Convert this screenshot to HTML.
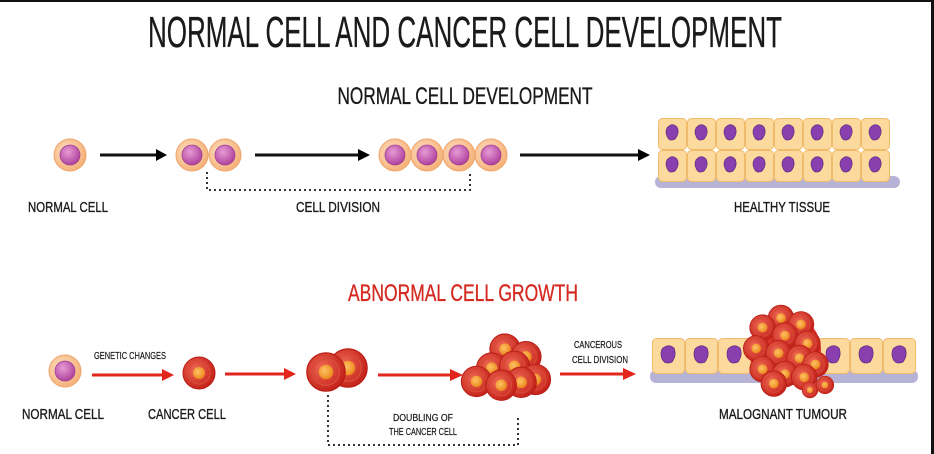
<!DOCTYPE html>
<html><head><meta charset="utf-8"><style>
html,body{margin:0;padding:0;background:#fff}
svg{display:block}
text{font-family:"Liberation Sans",sans-serif;fill:#1a1a1a;stroke:#1a1a1a;stroke-width:0.35}
</style></head><body>
<svg width="934" height="454" viewBox="0 0 934 454" xmlns="http://www.w3.org/2000/svg">
<defs>
<radialGradient id="gOut" cx="0.4" cy="0.4" r="0.6"><stop offset="0" stop-color="#fde2c4"/><stop offset="1" stop-color="#f5b27a"/></radialGradient>
<radialGradient id="gNuc" cx="0.4" cy="0.35" r="0.65"><stop offset="0" stop-color="#e79ad6"/><stop offset="1" stop-color="#b0449c"/></radialGradient>
<radialGradient id="gRed" cx="0.4" cy="0.4" r="0.6"><stop offset="0" stop-color="#ef6a55"/><stop offset="1" stop-color="#c5231b"/></radialGradient>
<radialGradient id="gOr" cx="0.4" cy="0.4" r="0.6"><stop offset="0" stop-color="#ffc266"/><stop offset="1" stop-color="#ec8a1e"/></radialGradient>
<g id="nc"><circle r="16" fill="url(#gOut)" stroke="#eea46a" stroke-width="1"/><circle r="10" fill="url(#gNuc)" stroke="#a03d90" stroke-width="0.8"/></g>
<g id="cc"><circle r="16" fill="url(#gRed)" stroke="#b81e16" stroke-width="1"/><circle r="11" fill="none" stroke="#d94a3a" stroke-width="1.2"/><circle r="6" fill="url(#gOr)"/></g>
<g id="tc"><rect x="0.5" y="0.5" width="28" height="31" rx="4" fill="#fcd99c" stroke="#f0bb6a"/><path d="M9 10 q5-6 10-1 q3 6-2 12 q-6 3-8-3 q-2-4 0-8z" fill="#8a3fae" stroke="#5e2a80" stroke-width="0.7"/></g>
<g id="tc2"><rect x="0.5" y="0.5" width="32" height="35" rx="4" fill="#fcd99c" stroke="#f0bb6a"/><path d="M10 11 q6-6 12-1 q3 7-2 14 q-7 3-10-3 q-2-5 0-10z" fill="#8a3fae" stroke="#5e2a80" stroke-width="0.7"/></g>
</defs>
<rect x="0" y="0" width="934" height="2" fill="#111"/>
<rect x="931" y="0" width="3" height="454" fill="#111"/>

<text x="465" y="47" font-size="44" text-anchor="middle" textLength="634" lengthAdjust="spacingAndGlyphs">NORMAL CELL AND CANCER CELL DEVELOPMENT</text>
<text x="465" y="104" font-size="24" text-anchor="middle" textLength="255" lengthAdjust="spacingAndGlyphs">NORMAL CELL DEVELOPMENT</text>

<!-- top row -->
<use href="#nc" x="70" y="155"/>
<path d="M100 155 H158" stroke="#111" stroke-width="3"/><path d="M156 149 L167 155 L156 161z" fill="#000"/>
<use href="#nc" x="192" y="155"/><use href="#nc" x="225" y="155"/>
<path d="M255 155 H360" stroke="#111" stroke-width="3"/><path d="M358 149 L370 155 L358 161z" fill="#000"/>
<use href="#nc" x="395" y="155"/><use href="#nc" x="427" y="155"/><use href="#nc" x="459" y="155"/><use href="#nc" x="491" y="155"/>
<path d="M520 155 H640" stroke="#111" stroke-width="3"/><path d="M638 149 L650 155 L638 161z" fill="#000"/>
<path d="M207 172 V190 H470 V172" fill="none" stroke="#333" stroke-width="2" stroke-dasharray="2 3"/>
<rect x="655" y="176" width="245" height="12" rx="6" fill="#b7b3d6"/>
<g>
<use href="#tc" x="658" y="118"/><use href="#tc" x="687" y="118"/><use href="#tc" x="716" y="118"/><use href="#tc" x="745" y="118"/><use href="#tc" x="774" y="118"/><use href="#tc" x="803" y="118"/><use href="#tc" x="832" y="118"/><use href="#tc" x="861" y="118"/>
<use href="#tc" x="658" y="150"/><use href="#tc" x="687" y="150"/><use href="#tc" x="716" y="150"/><use href="#tc" x="745" y="150"/><use href="#tc" x="774" y="150"/><use href="#tc" x="803" y="150"/><use href="#tc" x="832" y="150"/><use href="#tc" x="861" y="150"/>
</g>
<text x="68" y="212" font-size="15" text-anchor="middle" textLength="80" lengthAdjust="spacingAndGlyphs">NORMAL CELL</text>
<text x="338" y="212" font-size="15" text-anchor="middle" textLength="84" lengthAdjust="spacingAndGlyphs">CELL DIVISION</text>
<text x="782" y="212" font-size="15" text-anchor="middle" textLength="96" lengthAdjust="spacingAndGlyphs">HEALTHY TISSUE</text>

<text x="463" y="301" font-size="24" text-anchor="middle" textLength="230" lengthAdjust="spacingAndGlyphs" style="fill:#d42a22;stroke:#d42a22">ABNORMAL CELL GROWTH</text>

<!-- bottom row -->
<use href="#nc" x="65" y="371"/>
<text x="130" y="359" font-size="10" text-anchor="middle" textLength="72" lengthAdjust="spacingAndGlyphs" style="stroke-width:0.2">GENETIC CHANGES</text>
<path d="M92 375 H164" stroke="#e2261b" stroke-width="3"/><path d="M162 369 L174 375 L162 381z" fill="#e2261b"/>
<use href="#cc" x="199" y="373"/>
<path d="M225 374 H286" stroke="#e2261b" stroke-width="3"/><path d="M284 368 L296 374 L284 380z" fill="#e2261b"/>
<g transform="translate(348 368) scale(1.2)"><use href="#cc"/></g>
<g transform="translate(326 372) scale(1.2)"><use href="#cc"/></g>
<path d="M378 375 H452" stroke="#e2261b" stroke-width="3"/><path d="M450 369 L463 375 L450 381z" fill="#e2261b"/>
<g transform="translate(505 370) scale(0.95)">
<use href="#cc" x="0" y="-22"/><use href="#cc" x="22" y="-14"/><use href="#cc" x="-14" y="-2"/><use href="#cc" x="10" y="-4"/><use href="#cc" x="32" y="10"/><use href="#cc" x="-30" y="12"/><use href="#cc" x="17" y="13"/><use href="#cc" x="-4" y="16"/>
</g>
<path d="M328 395 V445 H518 V415" fill="none" stroke="#333" stroke-width="2" stroke-dasharray="2 3"/>
<text x="423" y="421" font-size="10" text-anchor="middle" textLength="60" lengthAdjust="spacingAndGlyphs" style="stroke-width:0.2">DOUBLING OF</text>
<text x="423" y="435" font-size="10" text-anchor="middle" textLength="68" lengthAdjust="spacingAndGlyphs" style="stroke-width:0.2">THE CANCER CELL</text>
<text x="598" y="348" font-size="10" text-anchor="middle" textLength="48" lengthAdjust="spacingAndGlyphs" style="stroke-width:0.2">CANCEROUS</text>
<text x="600" y="363" font-size="10" text-anchor="middle" textLength="56" lengthAdjust="spacingAndGlyphs" style="stroke-width:0.2">CELL DIVISION</text>
<path d="M560 374 H625" stroke="#e2261b" stroke-width="3"/><path d="M623 368 L636 374 L623 380z" fill="#e2261b"/>
<rect x="650" y="370" width="268" height="13" rx="6" fill="#b7b3d6"/>
<use href="#tc2" x="652" y="338"/><use href="#tc2" x="685" y="338"/><use href="#tc2" x="718" y="338"/><use href="#tc2" x="751" y="338"/><use href="#tc2" x="784" y="338"/><use href="#tc2" x="817" y="338"/><use href="#tc2" x="850" y="338"/><use href="#tc2" x="883" y="338"/>
<g transform="translate(785 350) scale(0.8)">
<circle r="45" fill="#d8342a"/>
<use href="#cc" x="-5" y="-40"/><use href="#cc" x="20" y="-32"/><use href="#cc" x="-28" y="-28"/><use href="#cc" x="0" y="-18"/><use href="#cc" x="28" y="-8"/><use href="#cc" x="-36" y="-2"/><use href="#cc" x="-8" y="4"/><use href="#cc" x="18" y="10"/><use href="#cc" x="38" y="18"/><use href="#cc" x="-28" y="24"/><use href="#cc" x="0" y="30"/><use href="#cc" x="24" y="34"/><use href="#cc" x="-14" y="42"/>
</g>
<g transform="translate(810 390) scale(0.5)"><use href="#cc"/></g>
<g transform="translate(825 385) scale(0.55)"><use href="#cc"/></g>
<text x="63" y="419" font-size="15" text-anchor="middle" textLength="82" lengthAdjust="spacingAndGlyphs">NORMAL CELL</text>
<text x="187" y="419" font-size="15" text-anchor="middle" textLength="78" lengthAdjust="spacingAndGlyphs">CANCER CELL</text>
<text x="783" y="419" font-size="15" text-anchor="middle" textLength="128" lengthAdjust="spacingAndGlyphs">MALOGNANT TUMOUR</text>
</svg>
</body></html>
